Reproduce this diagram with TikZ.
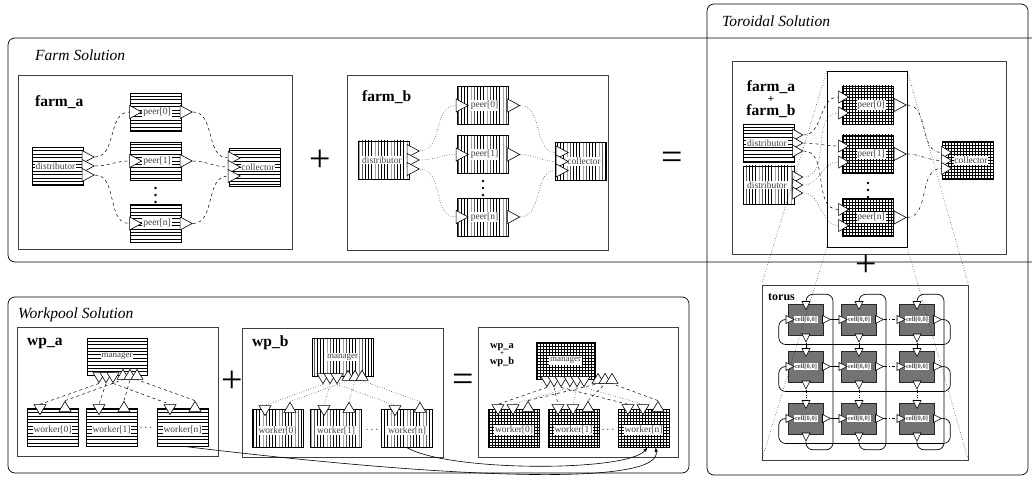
\documentclass[tikz,border=0pt]{standalone}
\usepackage{fontspec}
\setmainfont{Liberation Serif}
\usetikzlibrary{shapes.geometric,patterns}
\pgfdeclarepatternformonly{hstripes}{\pgfpointorigin}{\pgfqpoint{100pt}{1pt}}{\pgfqpoint{100pt}{3.4pt}}{\pgfsetlinewidth{0.75pt}\pgfpathmoveto{\pgfqpoint{0pt}{0.5pt}}\pgfpathlineto{\pgfqpoint{100pt}{0.5pt}}\pgfusepath{stroke}}
\pgfdeclarepatternformonly{vstripes}{\pgfpointorigin}{\pgfqpoint{1pt}{100pt}}{\pgfqpoint{3.2pt}{100pt}}{\pgfsetlinewidth{0.75pt}\pgfpathmoveto{\pgfqpoint{0.5pt}{0pt}}\pgfpathlineto{\pgfqpoint{0.5pt}{100pt}}\pgfusepath{stroke}}
\tikzset{
  frame/.style={draw, rounded corners=7pt, line width=0.7pt},
  panel/.style={draw=black!75, line width=0.8pt},
  title/.style={anchor=west, inner sep=0, font=\itshape\fontsize{15.5}{16}\selectfont},
  pname/.style={anchor=base west, inner sep=0, font=\bfseries\fontsize{15.5}{16}\selectfont},
  hbox/.style={draw, pattern=hstripes, minimum width=51pt, minimum height=38pt, inner sep=0},
  vbox/.style={draw, pattern=vstripes, minimum width=51pt, minimum height=38pt, inner sep=0},
  gbox/.style={draw, pattern=grid, minimum width=51pt, minimum height=38pt, inner sep=0},
  lbl/.style={fill=white, inner sep=0.8pt, text=black!75, font=\fontsize{9.5}{10}\selectfont},
  port/.style={isosceles triangle, isosceles triangle stretches, draw, line width=0.6pt, fill=white, inner sep=0, minimum width=13pt, minimum height=12pt},
  pr/.style={port, shape border rotate=0},
  pd/.style={port, shape border rotate=-90},
  pu/.style={port, shape border rotate=90},
  mp/.style={minimum width=12pt, minimum height=10pt},
  small/.style={minimum width=8pt, minimum height=8pt},
  cell/.style={draw=black!85, fill=black!55, minimum width=35pt, minimum height=31pt, inner sep=0},
  clbl/.style={fill=white, inner sep=0.8pt, text=black!70, font=\bfseries\fontsize{6.5}{7}\selectfont},
  op/.style={inner sep=0, font=\fontsize{38}{38}\selectfont},
  hdt/.style={inner sep=0, font=\fontsize{11}{11}\selectfont},
  la/.style={dashed, line width=0.5pt},
  lb/.style={dotted, line width=0.5pt},
  lab/.style={dash dot, line width=0.5pt},
  tl/.style={line width=0.7pt},
  wrap/.style={line width=0.7pt, rounded corners=7pt},
  zoomline/.style={dotted, line width=0.5pt},
  flow/.style={-latex, line width=0.6pt}
}
\begin{document}
\begin{tikzpicture}[x=1pt,y=-1pt]
\useasboundingbox (0,0) rectangle (1032,481);
\draw[frame] (8,38) rectangle (1050,262);
\node[title] (farmt) at (35,55) {Farm Solution};
\draw[frame] (707,4) rectangle (1028,475);
\node[title] (tort) at (722,21.5) {Toroidal Solution};
\draw[frame] (8,297) rectangle (689,473);
\node[title] (wpt) at (18,315) {Workpool Solution};
\draw[panel] (18,75) rectangle (292,249);
\node[pname] (fan) at (35,107) {farm\_a};
\node[hbox] (fad) at (57.5,166) {};
\node[lbl] (fadl) at (55.5,166) {distributor};
\node[pr] (fado0) at (86,157) {};
\node[pr] (fado1) at (86,166) {};
\node[pr] (fado2) at (86,175) {};
\node[hbox] (fap0) at (155.5,112) {};
\node[lbl] (fap0l) at (157,112) {peer[0]};
\node[pr] (fap0i) at (133.5,112) {};
\node[pr] (fap0o) at (184,112) {};
\node[hbox] (fap1) at (155.5,161) {};
\node[lbl] (fap1l) at (157,161) {peer[1]};
\node[pr] (fap1i) at (133.5,161) {};
\node[pr] (fap1o) at (184,161) {};
\foreach \dy in {-7,0,7} \fill (155.5,195+\dy) circle[radius=1.4pt];
\node[hbox] (fap2) at (155.5,223.5) {};
\node[lbl] (fap2l) at (157,223.5) {peer[n]};
\node[pr] (fap2i) at (133.5,223.5) {};
\node[pr] (fap2o) at (184,223.5) {};
\node[hbox] (fac) at (255,167) {};
\node[lbl] (facl) at (258,167) {collector};
\node[pr] (faci0) at (232,158) {};
\node[pr] (faci1) at (232,167) {};
\node[pr] (faci2) at (232,176) {};
\draw[la] (fado0.apex) to[out=0,in=180] (fap0i.lower side);
\draw[la] (fado1.apex) to[out=0,in=180] (fap1i.lower side);
\draw[la] (fado2.apex) to[out=0,in=180] (fap2i.lower side);
\draw[la] (fap0o.apex) to[out=0,in=180] (faci0.lower side);
\draw[la] (fap1o.apex) to[out=0,in=180] (faci1.lower side);
\draw[la] (fap2o.apex) to[out=0,in=180] (faci2.lower side);
\node[op] (opfa) at (320,161) {+};
\draw[panel] (347,75) rectangle (608,250);
\node[pname] (fbn) at (362,102) {farm\_b};
\node[vbox] (fbd) at (384,160) {};
\node[lbl] (fbdl) at (382,160) {distributor};
\node[pr] (fbdo0) at (411,151) {};
\node[pr] (fbdo1) at (411,160) {};
\node[pr] (fbdo2) at (411,169) {};
\node[vbox] (fbp0) at (483,105.5) {};
\node[lbl] (fbp0l) at (484.5,105.5) {peer[0]};
\node[pr] (fbp0i) at (460,105.5) {};
\node[pr] (fbp0o) at (511.5,105.5) {};
\node[vbox] (fbp1) at (483,154.5) {};
\node[lbl] (fbp1l) at (484.5,154.5) {peer[1]};
\node[pr] (fbp1i) at (460,154.5) {};
\node[pr] (fbp1o) at (511.5,154.5) {};
\foreach \dy in {-7,0,7} \fill (483,188+\dy) circle[radius=1.4pt];
\node[vbox] (fbp2) at (483,217) {};
\node[lbl] (fbp2l) at (484.5,217) {peer[n]};
\node[pr] (fbp2i) at (460,217) {};
\node[pr] (fbp2o) at (511.5,217) {};
\node[vbox] (fbc) at (581,161.5) {};
\node[lbl] (fbcl) at (584,161.5) {collector};
\node[pr] (fbci0) at (560,152.5) {};
\node[pr] (fbci1) at (560,161.5) {};
\node[pr] (fbci2) at (560,170.5) {};
\draw[lb] (fbdo0.apex) to[out=0,in=180] (fbp0i.lower side);
\draw[lb] (fbdo1.apex) to[out=0,in=180] (fbp1i.lower side);
\draw[lb] (fbdo2.apex) to[out=0,in=180] (fbp2i.lower side);
\draw[lb] (fbp0o.apex) to[out=0,in=180] (fbci0.lower side);
\draw[lb] (fbp1o.apex) to[out=0,in=180] (fbci1.lower side);
\draw[lb] (fbp2o.apex) to[out=0,in=180] (fbci2.lower side);
\node[op] (opfb) at (672,161) {=};
\draw[panel] (732,61) rectangle (1006,254);
\node[pname, anchor=base] (tfn1) at (771,91.5) {farm\_a};
\node[inner sep=0, font=\bfseries\fontsize{11}{11}\selectfont] (tfp) at (771,99.5) {+};
\node[pname, anchor=base] (tfn2) at (771,116) {farm\_b};
\node[hbox] (tda) at (769,143) {};
\node[lbl] (tdal) at (767,143) {distributor};
\node[pr,mp] (tdao0) at (796,135) {};
\node[pr,mp] (tdao1) at (796,143) {};
\node[pr,mp] (tdao2) at (796,151) {};
\node[vbox] (tdb) at (769,185) {};
\node[lbl] (tdbl) at (767,185) {distributor};
\node[pr,mp] (tdbo0) at (796,177) {};
\node[pr,mp] (tdbo1) at (796,185) {};
\node[pr,mp] (tdbo2) at (796,193) {};
\node[draw, fill=white, minimum width=80pt, minimum height=176pt, inner sep=0] (tpk) at (867,159) {};
\node[gbox] (tp0) at (868,105) {};
\node[lbl] (tp0l) at (871,105) {peer[0]};
\node[pr,mp] (tp0a) at (842,97) {};
\node[pr,mp] (tp0b) at (842,113) {};
\node[pr] (tp0o) at (898,105) {};
\node[gbox] (tp1) at (868,154) {};
\node[lbl] (tp1l) at (871,154) {peer[1]};
\node[pr,mp] (tp1a) at (842,146) {};
\node[pr,mp] (tp1b) at (842,162) {};
\node[pr] (tp1o) at (898,154) {};
\foreach \dy in {-7,0,7} \fill (868,190+\dy) circle[radius=1.4pt];
\node[gbox] (tp2) at (868,217.5) {};
\node[lbl] (tp2l) at (871,217.5) {peer[n]};
\node[pr,mp] (tp2a) at (842,209.5) {};
\node[pr,mp] (tp2b) at (842,225.5) {};
\node[pr] (tp2o) at (898,217.5) {};
\node[gbox] (tc) at (968,160.5) {};
\node[lbl] (tcl) at (971,160.5) {collector};
\node[pr,mp] (tci0) at (945,152.5) {};
\node[pr,mp] (tci1) at (945,160.5) {};
\node[pr,mp] (tci2) at (945,168.5) {};
\draw[la] (tdao0.apex) to[out=0,in=180] (tp0a.lower side);
\draw[la] (tdao1.apex) to[out=0,in=180] (tp1a.lower side);
\draw[la] (tdao2.apex) to[out=0,in=180] (tp2a.lower side);
\draw[lb] (tdbo0.apex) to[out=0,in=180] (tp0b.lower side);
\draw[lb] (tdbo1.apex) to[out=0,in=180] (tp1b.lower side);
\draw[lb] (tdbo2.apex) to[out=0,in=180] (tp2b.lower side);
\draw[lab] (tp0o.apex) to[out=0,in=180] (tci0.lower side);
\draw[lab] (tp1o.apex) to[out=0,in=180] (tci1.lower side);
\draw[lab] (tp2o.apex) to[out=0,in=180] (tci2.lower side);
\node[op] (optf) at (866,266) {+};
\node[panel, draw, minimum width=206pt, minimum height=175pt, inner sep=0] (tor) at (865,372.5) {};
\node[anchor=base west, inner sep=0, font=\bfseries\fontsize{12}{12}\selectfont] (torn) at (768,300) {torus};
\foreach \rw/\yy in {0/319.5,1/366.5,2/418.5}{
  \foreach \cl/\xx in {0/806,1/859,2/917}{
    \node[cell] (cl\rw\cl) at (\xx,\yy) {};
    \node[clbl] (cn\rw\cl) at (\xx,\yy) {cell[0,0]};
    \node[pd,small] (ct\rw\cl) at (\xx,\yy-15.5) {};
    \node[pd,small] (cb\rw\cl) at (\xx,\yy+17) {};
    \node[pr,small] (cw\rw\cl) at (\xx-17.5,\yy) {};
    \node[pr,small] (ce\rw\cl) at (\xx+19,\yy) {};
  }
}
\foreach \rw in {0,1,2}{
  \draw[tl] (ce\rw0.apex) -- (cw\rw1.lower side);
  \draw[lab] (ce\rw1.apex) -- (cw\rw2.lower side);
  \draw[wrap] (ce\rw2.apex) -| ++(8,25) -| ([xshift=-7pt]cw\rw0.lower side) -- (cw\rw0.lower side);
}
\foreach \cl in {0,1,2}{
  \draw[tl] (cb0\cl.apex) -- (ct1\cl.lower side);
  \draw[lb] (cb1\cl.apex) -- (ct2\cl.lower side);
  \draw[wrap] (cb2\cl.apex) |- ++(27,8) |- ([yshift=7pt]ct0\cl.lower side) -- (ct0\cl.lower side);
}
\draw[zoomline] (tpk.north west) -- (tor.north west);
\draw[zoomline] (tpk.north east) -- (tor.north east);
\draw[zoomline] (tpk.south west) -- (tor.south west);
\draw[zoomline] (tpk.south east) -- (tor.south east);
\draw[panel] (17,327) rectangle (218,456);
\node[pname] (wan) at (27,345) {wp\_a};
\node[hbox, minimum width=60pt, minimum height=37pt] (wam) at (117,356.5) {};
\node[lbl, font=\fontsize{9}{9}\selectfont] (waml) at (wam) {manager};
\node[pd,mp] (wamd0) at (99,376) {};
\node[pd,mp] (wamd1) at (106,376) {};
\node[pd,mp] (wamd2) at (113,376) {};
\node[pu,mp] (wamu0) at (123,376) {};
\node[pu,mp] (wamu1) at (130,376) {};
\node[pu,mp] (wamu2) at (137,376) {};
\node[hbox] (wa0) at (52.5,427.5) {};
\node[lbl] (wa0l) at (52.5,429.5) {worker[0]};
\node[pd,mp] (wa0d) at (40,408) {};
\node[pu,mp] (wa0u) at (65,408) {};
\node[hbox] (wa1) at (111.5,427.5) {};
\node[lbl] (wa1l) at (111.5,429.5) {worker[1]};
\node[pd,mp] (wa1d) at (99,408) {};
\node[pu,mp] (wa1u) at (124,408) {};
\node[hdt] (wadt) at (146,428) {$\cdots$};
\node[hbox] (wa2) at (182.5,427.5) {};
\node[lbl] (wa2l) at (182.5,429.5) {worker[n]};
\node[pd,mp] (wa2d) at (170,408) {};
\node[pu,mp] (wa2u) at (195,408) {};
\draw[la] (wamd0.apex) -- (wa0d.lower side);
\draw[la] (wamd1.apex) -- (wa1d.lower side);
\draw[la] (wamd2.apex) -- (wa2d.lower side);
\draw[la] (wa0u.apex) -- (wamu0.lower side);
\draw[la] (wa1u.apex) -- (wamu1.lower side);
\draw[la] (wa2u.apex) -- (wamu2.lower side);
\node[op] (opwa) at (232,382) {+};
\draw[panel] (242,328) rectangle (443,457);
\node[pname] (wbn) at (252,346) {wp\_b};
\node[vbox, minimum width=61pt, minimum height=38pt] (wbm) at (342.5,357) {};
\node[lbl, font=\fontsize{9}{9}\selectfont] (wbml) at (wbm) {manager};
\node[pd,mp] (wbmd0) at (323,377) {};
\node[pd,mp] (wbmd1) at (330,377) {};
\node[pd,mp] (wbmd2) at (337,377) {};
\node[pu,mp] (wbmu0) at (348,377) {};
\node[pu,mp] (wbmu1) at (355,377) {};
\node[pu,mp] (wbmu2) at (362,377) {};
\node[vbox] (wb0) at (277.5,428.5) {};
\node[lbl] (wb0l) at (277.5,430.5) {worker[0]};
\node[pd,mp] (wb0d) at (265,409) {};
\node[pu,mp] (wb0u) at (290,409) {};
\node[vbox] (wb1) at (336,428.5) {};
\node[lbl] (wb1l) at (336,430.5) {worker[1]};
\node[pd,mp] (wb1d) at (324,409) {};
\node[pu,mp] (wb1u) at (349,409) {};
\node[hdt] (wbdt) at (372,430) {$\cdots$};
\node[vbox] (wb2) at (407,428.5) {};
\node[lbl] (wb2l) at (407,430.5) {worker[n]};
\node[pd,mp] (wb2d) at (395,409) {};
\node[pu,mp] (wb2u) at (420,409) {};
\draw[lb] (wbmd0.apex) -- (wb0d.lower side);
\draw[lb] (wbmd1.apex) -- (wb1d.lower side);
\draw[lb] (wbmd2.apex) -- (wb2d.lower side);
\draw[lb] (wb0u.apex) -- (wbmu0.lower side);
\draw[lb] (wb1u.apex) -- (wbmu1.lower side);
\draw[lb] (wb2u.apex) -- (wbmu2.lower side);
\node[op] (opwb) at (463,383) {=};
\draw[panel] (478,327) rectangle (678,457);
\node[anchor=base, inner sep=0, font=\bfseries\fontsize{10.5}{11}\selectfont] (wabn1) at (502,348) {wp\_a};
\node[inner sep=0, font=\bfseries\fontsize{7}{7}\selectfont] (wabp) at (502,354) {+};
\node[anchor=base, inner sep=0, font=\bfseries\fontsize{10.5}{11}\selectfont] (wabn2) at (502,364.5) {wp\_b};
\node[gbox, minimum width=59pt, minimum height=37pt] (wabm) at (565.5,360.5) {};
\node[lbl, font=\fontsize{9}{9}\selectfont] (wabml) at (wabm) {manager};
\node[pd,mp] (wabda0) at (547,380) {};
\node[pd,mp] (wabda1) at (554,380) {};
\node[pd,mp] (wabda2) at (561,380) {};
\node[pd,mp] (wabdb0) at (570,380) {};
\node[pd,mp] (wabdb1) at (577,380) {};
\node[pd,mp] (wabdb2) at (584,380) {};
\node[pu,mp] (wabu0) at (598,380) {};
\node[pu,mp] (wabu1) at (605,380) {};
\node[pu,mp] (wabu2) at (612,380) {};
\node[gbox] (wab0) at (514,428) {};
\node[lbl] (wab0l) at (514,430) {worker[0]};
\node[pd,mp] (wab0a) at (498,408) {};
\node[pd,mp] (wab0b) at (513,408) {};
\node[pu,mp] (wab0u) at (528,408) {};
\node[gbox] (wab1) at (573.5,428) {};
\node[lbl] (wab1l) at (573.5,430) {worker[1]};
\node[pd,mp] (wab1a) at (558,408) {};
\node[pd,mp] (wab1b) at (573,408) {};
\node[pu,mp] (wab1u) at (588,408) {};
\node[hdt] (wabdt) at (608,430) {$\cdots$};
\node[gbox] (wab2) at (643.5,428) {};
\node[lbl] (wab2l) at (643.5,430) {worker[n]};
\node[pd,mp] (wab2a) at (628,408) {};
\node[pd,mp] (wab2b) at (643,408) {};
\node[pu,mp] (wab2u) at (658,408) {};
\draw[la] (wabda0.apex) -- (wab0a.lower side);
\draw[la] (wabda1.apex) -- (wab1a.lower side);
\draw[la] (wabda2.apex) -- (wab2a.lower side);
\draw[lb] (wabdb0.apex) -- (wab0b.lower side);
\draw[lb] (wabdb1.apex) -- (wab1b.lower side);
\draw[lb] (wabdb2.apex) -- (wab2b.lower side);
\draw[la] (wab0u.apex) -- (wabu0.lower side);
\draw[la] (wab1u.apex) -- (wabu1.lower side);
\draw[la] (wab2u.apex) -- (wabu2.lower side);
\draw[flow] ([xshift=4pt]wa2.south) .. controls (480,482) and (662,484) .. ([xshift=12pt]wab2.south);
\draw[flow] (wb2.south) .. controls (450,472) and (628,472) .. ([xshift=4pt]wab2.south);
\end{tikzpicture}
\end{document}
